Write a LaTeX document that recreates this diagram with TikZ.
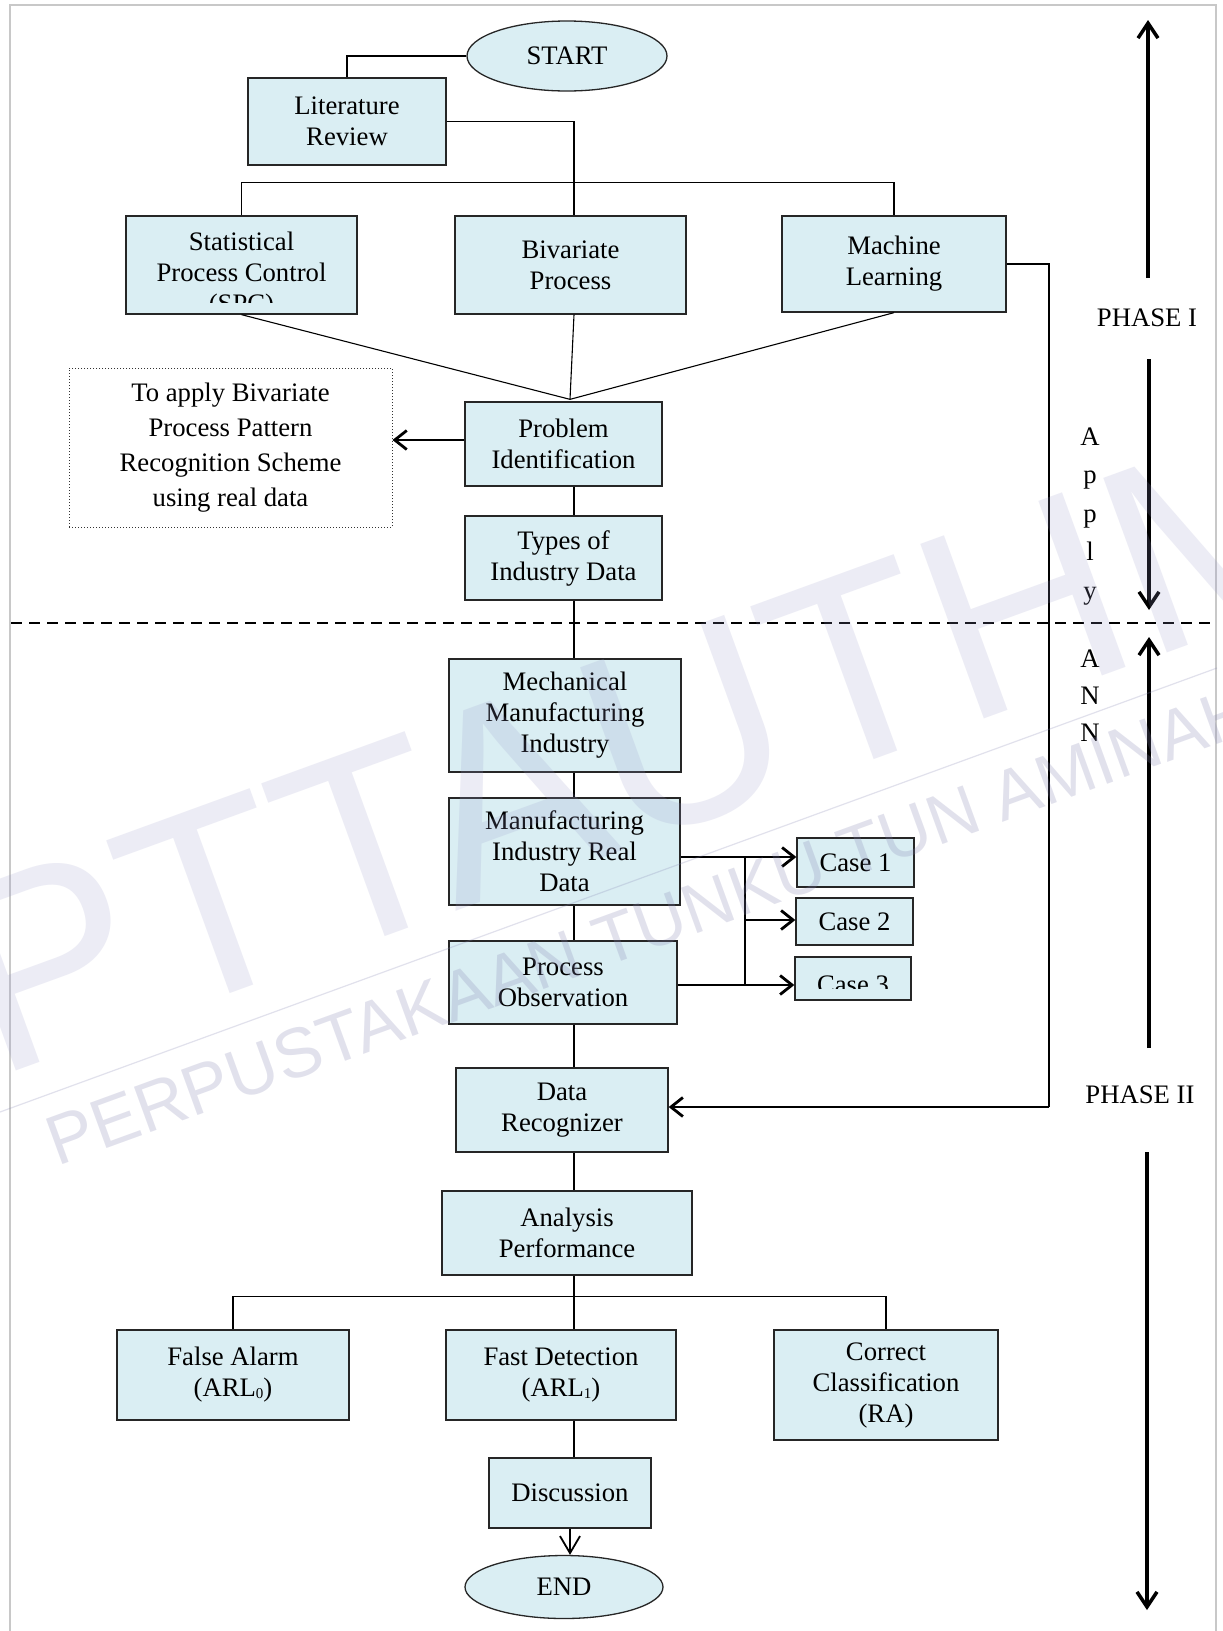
\documentclass[tikz,border=0pt]{standalone}
\usepackage{fontspec}
\setmainfont{Liberation Serif}
\newfontfamily\wmfont{Liberation Sans}
\usetikzlibrary{arrows.meta,shapes.geometric,calc}
\definecolor{boxfill}{HTML}{DAEEF3}
\definecolor{framegray}{RGB}{200,200,200}
\definecolor{wmbig}{RGB}{150,150,200}
\definecolor{wmsmall}{RGB}{132,132,178}
\newcommand{\lowdigit}[1]{\raisebox{-2pt}{\fontsize{15}{15}\selectfont #1}}

\begin{document}
\begin{tikzpicture}[x=1pt,y=-1pt,
  every node/.style={font=\fontsize{26.7}{31}\selectfont, text=black},
  box/.style={draw=black!85, line width=1.3, fill=boxfill, align=center, inner sep=0pt},
  oval/.style={draw=black!85, line width=1.3, fill=boxfill, ellipse, inner sep=0pt},
  link/.style={draw=black, line width=1.1},
  heavy/.style={draw=black, line width=2.8, -{Straight Barb[length=12,width=19]}},
  phasearrow/.style={draw=black, line width=3.5, -{Straight Barb[length=15,width=20]}},
  thinarrow/.style={draw=black, line width=1.3, -{Straight Barb[length=17,width=20,line width=1.8]}},
  letter/.style={anchor=base, inner sep=0pt}
]
\useasboundingbox (0,0) rectangle (1223,1631);
\fill[white] (0,0) rectangle (1223,1631);

% page frame
\draw[framegray, line width=2.5] (10,1631) -- (10,5) -- (1216,5) -- (1216,1631);

% ---------- phase I ----------
\node[oval, minimum width=200pt, minimum height=70pt] (start) at (567,56) {START};
\node[box, minimum width=198pt, minimum height=87pt] (lit) at (347,121.5) {Literature\\Review};

\node[box, minimum width=231pt, minimum height=98pt] (spc) at (241.5,265) {};
\begin{scope}
  \clip (126,217) rectangle (357,302);
  \node[align=center, inner sep=0pt] (spctext) at (241.5,275) {Statistical\\Process Control\\(SPC)};
\end{scope}
\node[box, minimum width=231pt, minimum height=98pt] (biv) at (570.5,265) {Bivariate\\Process};
\node[box, minimum width=224pt, minimum height=96pt] (ml) at (894,264) {Machine\\Learning};

\node[box, minimum width=197pt, minimum height=84pt] (prob) at (563.5,444) {Problem\\Identification};
\node[draw=black!80, line width=1, dotted, align=center, inner sep=0pt,
      minimum width=323pt, minimum height=159pt, font=\fontsize{26.7}{35}\selectfont]
      (note) at (230.5,447.5) {To apply Bivariate\\Process Pattern\\Recognition Scheme\\using real data};
\node[box, minimum width=197pt, minimum height=84pt] (types) at (563.5,558) {Types of\\Industry Data};

% ---------- phase II ----------
\node[box, minimum width=232pt, minimum height=113pt] (mech) at (565,715.5) {Mechanical\\Manufacturing\\Industry};
\node[box, minimum width=231pt, minimum height=107pt] (mird) at (564.5,851.5) {Manufacturing\\Industry Real\\Data};
\node[box, minimum width=228pt, minimum height=83pt] (po) at (563,982.5) {Process\\Observation};

\node[box, minimum width=117pt, minimum height=49pt] (case1) at (855.5,862.5) {Case 1};
\node[box, minimum width=117pt, minimum height=47pt] (case2) at (854.5,921.5) {Case 2};
\node[box, minimum width=116pt, minimum height=43pt] (case3) at (853,978.5) {};
\begin{scope}
  \clip (795,958) rectangle (911,988);
  \node[letter] (case3text) at (853,993) {Case 3};
\end{scope}

\node[box, minimum width=212pt, minimum height=84pt] (dr) at (562,1110) {Data\\Recognizer};
\node[box, minimum width=250pt, minimum height=84pt] (ap) at (567,1233) {Analysis\\Performance};

\node[box, minimum width=232pt, minimum height=90pt] (fa) at (233,1375) {False Alarm\\(ARL\lowdigit{0})};
\node[box, minimum width=230pt, minimum height=90pt] (fd) at (561,1375) {Fast Detection\\(ARL\lowdigit{1})};
\node[box, minimum width=224pt, minimum height=110pt] (cc) at (886,1385) {Correct\\Classification\\(RA)};
\node[box, minimum width=162pt, minimum height=70pt] (disc) at (570,1493) {Discussion};
\node[oval, minimum width=198pt, minimum height=63pt] (end) at (564,1587) {END};

% ---------- connectors ----------
\coordinate (spine) at (574,0);
\coordinate (apex) at ($(prob.north)+(6.5,-2)$);
\draw[link] (start.west) -| (lit.north);
\draw[link] (lit.east) -| (biv.north -| spine);
\draw[link] (spc.north) -- ++(0,-33) -| (ml.north);
\draw[link] (spc.south) -- (apex);
\draw[link] (biv.south -| spine) -- (apex);
\draw[link] (ml.south) -- (apex);
\coordinate (probout) at ($(prob.west)+(0,-4)$);
\draw[heavy] (probout) -- (probout -| note.east);
\draw[link] (prob.south -| spine) -- (types.north -| spine);
\draw[link] (types.south -| spine) -- (mech.north -| spine);
\draw[link] (mech.south -| spine) -- (mird.north -| spine);
\draw[link] (mird.south -| spine) -- (po.north -| spine);
\draw[link] (po.south -| spine) -- (dr.north -| spine);
\draw[link] (dr.south -| spine) -- (ap.north -| spine);
\draw[link] (ap.south -| spine) -- (fd.north -| spine);
\draw[link] (fa.north) -- ++(0,-33) -| (cc.north);
\draw[link] (fd.south -| spine) -- (disc.north -| spine);
\draw[thinarrow] (disc.south) -- (disc.south |- end.north);

% case fan-out
\coordinate (bk1) at (745,857);
\coordinate (bk2) at (745,920);
\coordinate (bk3) at (745,985);
\draw[link] (mird.east |- bk1) -- (bk1) -- (bk3) -- (po.east |- bk3);
\draw[heavy] (bk1) -- (bk1 -| case1.west);
\draw[heavy] (bk2) -- (bk2 -| case2.west);
\draw[heavy] (bk3) -- (bk3 -| case3.west);

% machine learning feeds the recognizer
\coordinate (mlturn) at (1049,1107);
\draw[link] (ml.east) -| (mlturn);
\draw[heavy] (mlturn) -- (mlturn -| dr.east);

% phase separator
\coordinate (sepL) at (11,623);
\coordinate (sepR) at (1216,623);
\draw[line width=2.9, dash pattern=on 11pt off 7pt] (sepL) -- (sepR);

% phase arrows and labels
\coordinate (a1s) at (1148,278);  \coordinate (a1e) at (1148,20);
\coordinate (a2s) at (1149,359);  \coordinate (a2e) at (1149,610);
\coordinate (a3s) at (1149,1048); \coordinate (a3e) at (1149,637);
\coordinate (a4s) at (1147,1152); \coordinate (a4e) at (1147,1610);
\draw[phasearrow] (a1s) -- (a1e);
\draw[phasearrow] (a2s) -- (a2e);
\draw[phasearrow] (a3s) -- (a3e);
\draw[phasearrow] (a4s) -- (a4e);
\node (ph1) at (1147,318) {PHASE I};
\node (ph2) at (1140,1095) {PHASE II};
\foreach \ch/\yy [count=\i] in {A/445,p/483.5,p/522,l/560.5,y/599}
  \node[letter] (apply\i) at (1090,\yy) {\ch};
\foreach \ch/\yy [count=\i] in {A/667,N/704,N/741}
  \node[letter] (ann\i) at (1090,\yy) {\ch};

% library watermark
\begin{scope}[opacity=0.18]
  \node[rotate=20, text=wmbig, inner sep=0pt, font=\wmfont\fontsize{270}{270}\selectfont]
    (wmark) at (645,745) {PTTAUTHM};
\end{scope}
\begin{scope}[opacity=0.24]
  \node[rotate=20, text=wmsmall, inner sep=0pt, font=\wmfont\fontsize{70}{70}\selectfont]
    (wmtext) at (650,925) {PERPUSTAKAAN TUNKU TUN AMINAH};
  \draw[wmsmall, line width=1.2] (0,1112) -- (1217,668);
\end{scope}
\end{tikzpicture}
\end{document}
